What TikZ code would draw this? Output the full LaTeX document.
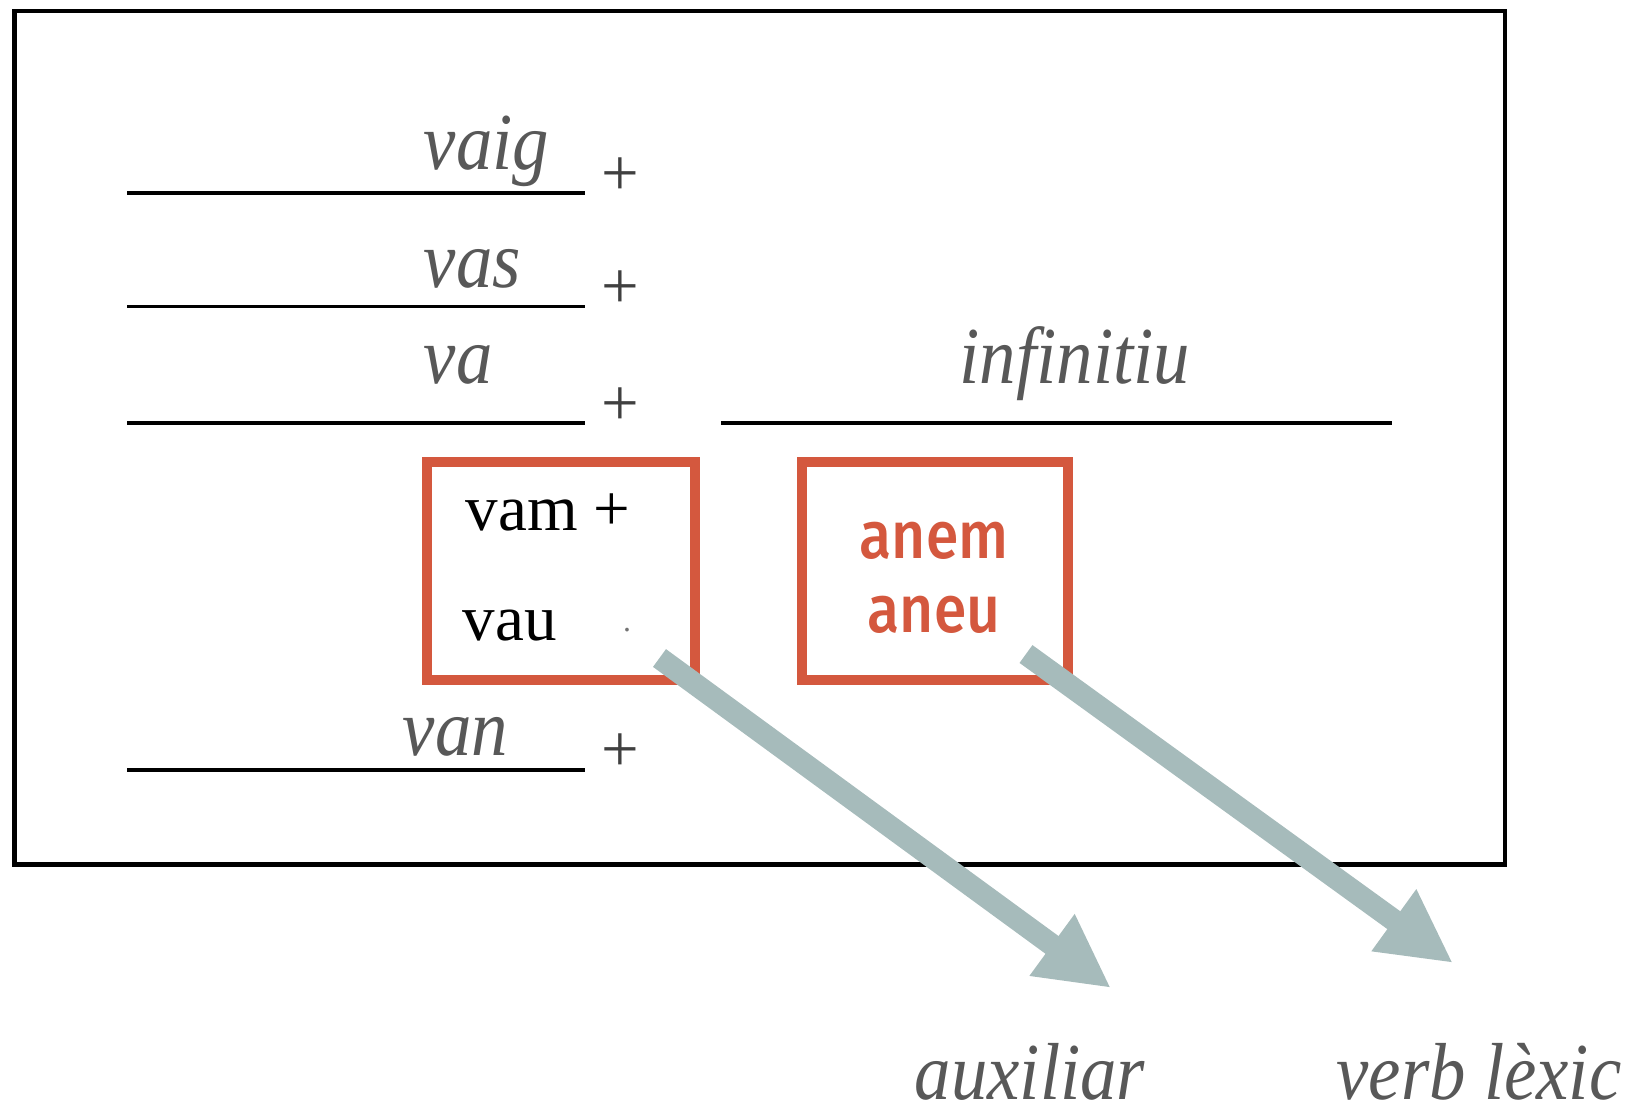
\documentclass[tikz,border=0pt]{standalone}
\usepackage{fontspec}
\setmainfont{Liberation Serif}
\newfontfamily\formfont{Liberation Serif}[FakeStretch=0.9]
\newfontfamily\verbfont{Fira Sans Medium}[FakeStretch=0.88]
\usetikzlibrary{arrows.meta}
\definecolor{boxred}{RGB}{212,88,62}
\definecolor{arrowgray}{RGB}{166,187,187}
\definecolor{formgray}{RGB}{88,88,88}

\begin{document}
\begin{tikzpicture}[x=0.01cm, y=-0.01cm,
  outerframe/.style={draw, line width=1.3pt},
  slot/.style={draw, line width=0.9pt},
  form/.style={font=\formfont\itshape\fontsize{23}{23}\selectfont, text=formgray, inner sep=0pt},
  plus/.style={font=\fontsize{19}{19}\selectfont, text=black!75, inner sep=0pt},
  plain/.style={font=\fontsize{18.5}{18.5}\selectfont, inner sep=0pt, anchor=base west},
  redbox/.style={draw=boxred, line width=1.05mm, minimum height=2.18cm, inner sep=0pt},
  verbform/.style={font=\verbfont\fontsize{19}{19}\selectfont, text=boxred, inner sep=0pt, anchor=base},
  bigarrow/.style={arrowgray, line width=2.2mm, -{Triangle[length=7.3mm,width=7.1mm]}}
]
\useasboundingbox (0,0) rectangle (1629,1117);
% frame
\draw[outerframe] (14.5,11) rectangle (1505,864.5);
% blanks for the forms of anar
\foreach \y in {193,306.5,423,770} \draw[slot] (127,\y) -- (585,\y);
\draw[slot] (721,423) -- (1392,423);
\node[form, anchor=base west] (vaig) at (423,169) {vaig};
\node[form, anchor=base west] (vas) at (423,287) {vas};
\node[form, anchor=base west] (va) at (423,383) {va};
\node[form, anchor=base west] (van) at (402,755) {van};
\node[form, anchor=base] (inf) at (1075,383) {infinitiu};
\foreach \n/\y in {p1/177,p2/290,p3/407,p4/753} \node[plus] (\n) at (620,\y) {+};
% boxed forms
\node[redbox, minimum width=2.68cm] (auxbox) at (561,571) {};
\node[redbox, minimum width=2.66cm] (lexbox) at (935,571) {};
\node[plain] (vam) at (465,530) {vam +};
\node[plain] (vau) at (462,640) {vau};
\node[font=\fontsize{9}{9}\selectfont, text=black!55, inner sep=0pt] (vaudot) at (627,630) {.};
\node[verbform] (anem) at (934,558) {anem};
\node[verbform] (aneu) at (934,632) {aneu};
% labels below
\node[form, anchor=base] (aux) at (1030,1099) {auxiliar};
\node[form, anchor=base] (lex) at (1479,1099) {verb lèxic};
\coordinate (auxfrom) at (659.5,658);
\coordinate (auxto) at (1111,988);
\coordinate (lexfrom) at (1026,654);
\coordinate (lexto) at (1453,963);
\draw[bigarrow] (auxfrom) -- (auxto);
\draw[bigarrow] (lexfrom) -- (lexto);
\end{tikzpicture}
\end{document}
